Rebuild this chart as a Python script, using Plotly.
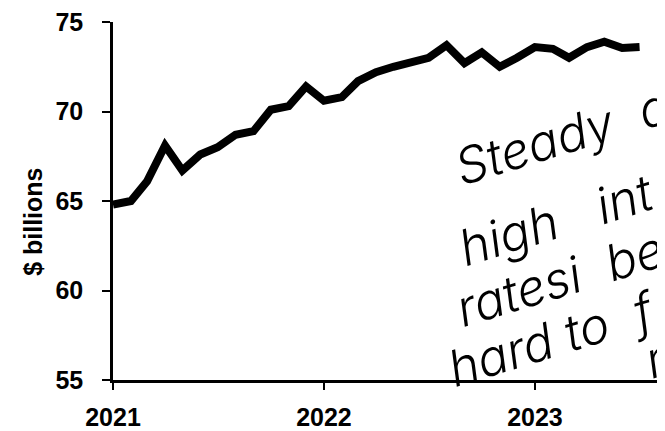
import plotly.graph_objects as go

months = ["2021-01-01", "2021-02-01", "2021-03-01", "2021-04-01", "2021-05-01", "2021-06-01",
          "2021-07-01", "2021-08-01", "2021-09-01", "2021-10-01", "2021-11-01", "2021-12-01",
          "2022-01-01", "2022-02-01", "2022-03-01", "2022-04-01", "2022-05-01", "2022-06-01",
          "2022-07-01", "2022-08-01", "2022-09-01", "2022-10-01", "2022-11-01", "2022-12-01",
          "2023-01-01", "2023-02-01", "2023-03-01", "2023-04-01", "2023-05-01", "2023-06-01",
          "2023-07-01"]
values = [64.8, 65.0, 66.1, 68.1, 66.7, 67.6, 68.0, 68.7, 68.9, 70.1, 70.3, 71.4,
          70.6, 70.8, 71.7, 72.2, 72.5, 72.8, 73.0, 73.7, 72.7, 73.3, 72.5, 73.0,
          73.6, 73.5, 73.0, 73.6, 73.9, 73.55, 73.6]
x_tick_vals = ["2021-01-01", "2022-01-01", "2023-01-01"]
x_tick_text = ["2021", "2022", "2023"]
y_tick_vals = [55, 60, 65, 70, 75]
y_title = "$ billions"
note_lines = ["Steady\u00a0 d", "high\u00a0\u00a0 int", "ratesi\u00a0 be", "hard\u00a0to\u00a0 f"]
note_tail = "r"

# the page body has an 8px margin; work in page pixels and shift into the figure
OFF = 8
PAGE_W, PAGE_H = 665, 431
W, H = PAGE_W - OFF, PAGE_H - OFF
AX_L, AX_T, AX_B, AX_R = 113, 20, 389, 665  # plot area in page pixels
L, T = AX_L - OFF, AX_T - OFF
B = H - (AX_B - OFF)
R = W - (AX_R - OFF)
pw, ph = W - L - R, H - T - B

def px(x):
    return (x - OFF - L) / pw

def py(y):
    return (H - B - (y - OFF)) / ph

fig = go.Figure()
fig.add_trace(go.Scatter(x=months, y=values, mode="lines",
                         line=dict(color="black", width=8), hoverinfo="skip"))

tick_font = dict(family="Liberation Sans, Arial, sans-serif", size=25, color="black", weight="bold")

fig.update_layout(
    width=W, height=H, margin=dict(l=L, r=R, t=T, b=B),
    paper_bgcolor="white", plot_bgcolor="white", showlegend=False,
    xaxis=dict(type="date", range=["2021-01-01", "2023-08-14"], tickvals=x_tick_vals,
               ticktext=x_tick_text, ticks="outside", ticklen=7, tickwidth=2, tickcolor="black",
               showline=True, linecolor="black", linewidth=2.5, showgrid=False, zeroline=False,
               tickfont=tick_font, ticklabelstandoff=6, ticklabeloverflow="allow"),
    yaxis=dict(range=[55, 75], tickvals=y_tick_vals, ticks="outside", ticklen=8, tickwidth=2,
               tickcolor="black", showline=True, linecolor="black", linewidth=2.5,
               showgrid=False, zeroline=False, tickfont=tick_font, ticklabelstandoff=14,
               ticklabeloverflow="allow"),
)

fig.add_annotation(text=y_title, xref="paper", yref="paper", x=px(33), y=py(226),
                   showarrow=False, textangle=-90, xanchor="center", yanchor="middle",
                   font=dict(family="Liberation Sans, Arial, sans-serif", size=25,
                             color="black", weight="bold"))

note_font = dict(family="Inter, DejaVu Sans, sans-serif", size=50, color="black",
                 style="italic", weight=300)

# bottom-left corners (page pixels) of each rotated handwritten line
note_corner = [(446, 203), (449, 286), (446, 349), (438, 411)]
for txt, (cx, cy) in zip(note_lines, note_corner):
    fig.add_annotation(text=txt, xref="paper", yref="paper", x=px(cx), y=py(cy),
                       showarrow=False, textangle=-17, xanchor="left", yanchor="bottom",
                       font=note_font)

fig.add_annotation(text=note_tail, xref="paper", yref="paper", x=px(656), y=py(367),
                   showarrow=False, textangle=-17, xanchor="center", yanchor="middle",
                   font=note_font)

fig.write_html("out.html")
